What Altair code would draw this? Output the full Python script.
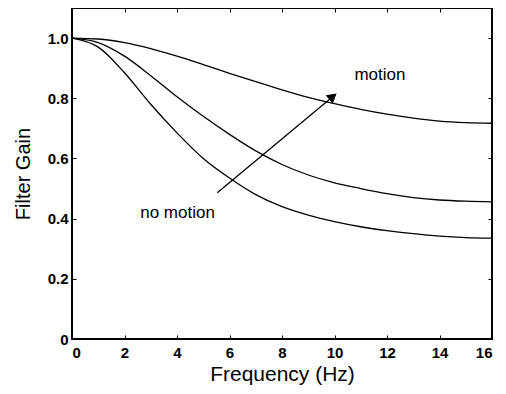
import altair as alt
import pandas as pd

freq = list(range(0, 17))
gain_motion = [1.0, 0.997, 0.985, 0.965, 0.94, 0.912, 0.883, 0.855, 0.828,
               0.803, 0.782, 0.763, 0.747, 0.734, 0.724, 0.719, 0.717]
gain_mid = [1.0, 0.985, 0.94, 0.875, 0.805, 0.74, 0.68, 0.625, 0.58,
            0.545, 0.519, 0.50, 0.483, 0.47, 0.462, 0.458, 0.456]
gain_nomotion = [1.0, 0.97, 0.885, 0.78, 0.685, 0.60, 0.535, 0.48, 0.44,
                 0.412, 0.39, 0.373, 0.36, 0.35, 0.342, 0.337, 0.335]

x_ticks = [0, 2, 4, 6, 8, 10, 12, 14, 16]
y_ticks = [0, 0.2, 0.4, 0.6, 0.8, 1.0]

arrow_x = [5.535, 9.94]
arrow_y = [0.486, 0.806]
labels = ["no motion", "motion"]
label_x = [4.02, 11.73]
label_y = [0.42, 0.876]

W, H = 420, 331

rows = []
for name, vals in [("motion", gain_motion), ("mid", gain_mid), ("nomotion", gain_nomotion)]:
    for f, g in zip(freq, vals):
        rows.append({"series": name, "f": f, "g": g})
df = pd.DataFrame(rows)

xs = alt.Scale(domain=[0, 16], nice=False, zero=False)
ys = alt.Scale(domain=[0, 1.1], nice=False, zero=False)

FONT = "Liberation Sans"

def tick_axis(orient, offset, values):
    return alt.Axis(orient=orient, offset=offset, values=values, labels=False,
                    domain=False, grid=False, title=None, ticks=True,
                    tickSize=4, tickColor="black", tickWidth=1)

lines = alt.Chart(df).mark_line(color="black", strokeWidth=1.3, interpolate="monotone").encode(
    x=alt.X("f:Q", scale=xs, axis=alt.Axis(orient="bottom", values=x_ticks, ticks=False,
            domain=False, grid=False, title="Frequency (Hz)", labelFont=FONT,
            labelFontSize=15, labelFontWeight="bold", labelColor="black",
            labelPadding=6, titleFont=FONT, titleFontSize=21,
            titleFontWeight="normal", titleColor="black", titlePadding=3)),
    y=alt.Y("g:Q", scale=ys, axis=alt.Axis(orient="left", values=y_ticks, ticks=False,
            domain=False, grid=False, title="Filter Gain", labelFont=FONT,
            labelFontSize=15, labelFontWeight="bold", labelColor="black",
            labelPadding=4, titleFont=FONT, titleFontSize=20,
            titleFontWeight="normal", titleColor="black", titlePadding=14,
            labelExpr="datum.value == 0 ? '0' : format(datum.value, '.1f')")),
    detail="series:N",
)

arrow_df = pd.DataFrame({"x": [arrow_x[0]], "y": [arrow_y[0]], "x2": [arrow_x[1]], "y2": [arrow_y[1]]})
arrow_line = alt.Chart(arrow_df).mark_rule(color="black", strokeWidth=1.3).encode(
    x=alt.X("x:Q", scale=xs, axis=tick_axis("top", -H, x_ticks)),
    y=alt.Y("y:Q", scale=ys, axis=tick_axis("right", -W, y_ticks)),
    x2="x2:Q", y2="y2:Q",
)

head_df = pd.DataFrame({"x": [arrow_x[1]], "y": [arrow_y[1]]})
arrow_head = alt.Chart(head_df).mark_point(shape="triangle-up", filled=True, color="black",
                                            opacity=1, size=120, angle=50).encode(
    x=alt.X("x:Q", scale=xs, axis=None),
    y=alt.Y("y:Q", scale=ys, axis=None),
)

text_df = pd.DataFrame({"t": labels, "x": label_x, "y": label_y})
texts = alt.Chart(text_df).mark_text(font=FONT, fontSize=17, color="black",
                                     align="center", baseline="middle").encode(
    x=alt.X("x:Q", scale=xs, axis=tick_axis("bottom", -H, x_ticks)),
    y=alt.Y("y:Q", scale=ys, axis=tick_axis("left", -W, y_ticks)),
    text="t:N",
)

chart = alt.layer(lines, arrow_line, arrow_head, texts).resolve_axis(
    x="independent", y="independent"
).properties(
    width=W, height=H,
    autosize=alt.AutoSizeParams(type="none"),
    padding={"left": 64, "top": 0, "right": 6, "bottom": 47},
    background="white",
).configure_view(stroke="black", strokeWidth=2)

chart.save("out.html", embed_options={"renderer": "svg", "actions": False})
